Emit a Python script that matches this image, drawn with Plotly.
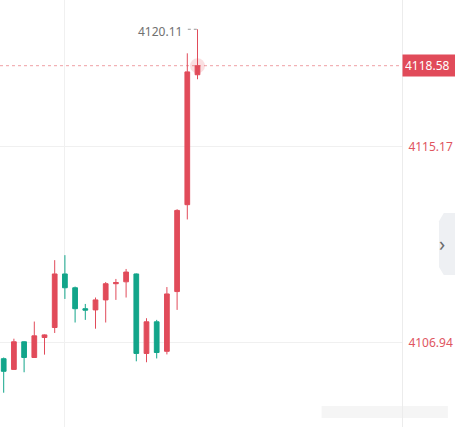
import plotly.graph_objects as go

# 20 candles, red = up, green = down
idx = list(range(20))
open_ = [4106.27, 4105.82, 4106.98, 4106.32, 4107.16, 4107.58, 4109.83, 4109.25, 4108.37, 4108.32,
         4108.74, 4109.42, 4109.50, 4109.83, 4106.49, 4107.82, 4106.58, 4109.09, 4112.74, 4118.20]
high = [4106.32, 4107.11, 4107.00, 4107.83, 4107.29, 4110.41, 4110.62, 4109.30, 4108.57, 4108.84,
        4109.49, 4109.62, 4110.04, 4109.85, 4107.97, 4107.90, 4109.28, 4112.55, 4119.10, 4120.11]
low = [4104.84, 4105.80, 4105.70, 4106.30, 4106.44, 4107.35, 4108.78, 4107.79, 4107.90, 4107.53,
       4107.79, 4108.74, 4108.84, 4106.16, 4106.12, 4106.28, 4106.45, 4108.32, 4112.12, 4118.01]
close = [4105.74, 4106.98, 4106.32, 4107.23, 4107.27, 4109.83, 4109.25, 4108.37, 4108.31, 4108.74,
         4109.42, 4109.47, 4109.91, 4106.49, 4107.82, 4106.53, 4108.99, 4112.50, 4118.32, 4118.58]

price_ticks = [4106.94, 4115.17]
time_grid = [6]

RED = "#e14b5a"
GREEN = "#12a58a"
last = close[-1]
hi = max(high)
hi_i = high.index(hi)

fig = go.Figure()
fig.add_trace(go.Candlestick(
    x=idx, open=open_, high=high, low=low, close=close,
    increasing=dict(line=dict(color=RED, width=1), fillcolor=RED),
    decreasing=dict(line=dict(color=GREEN, width=1), fillcolor=GREEN),
    whiskerwidth=0, hoverinfo="skip", showlegend=False,
))
# soft glow on the live candle
fig.add_trace(go.Scatter(
    x=[idx[-1]], y=[last], mode="markers",
    marker=dict(size=15, color="rgba(225,75,90,0.18)"),
    hoverinfo="skip", showlegend=False,
))
# dotted leader to the session high
fig.add_trace(go.Scatter(
    x=[hi_i - 0.95, hi_i], y=[hi, hi], mode="lines",
    line=dict(color="#999999", width=1, dash="dot"),
    hoverinfo="skip", showlegend=False,
))

fig.add_hline(y=last, line=dict(color="rgba(225,80,90,0.55)", width=1, dash="dot"))

fig.add_annotation(x=hi_i, y=hi, text=f"{hi:.2f}", xanchor="right", yanchor="middle",
                   xshift=-14, yshift=-2, showarrow=False,
                   font=dict(size=12, color="#707070"))
fig.add_annotation(x=1, xref="paper", y=last, text=f"{last:.2f}", xanchor="left",
                   yanchor="middle", showarrow=False, bgcolor=RED, borderpad=2,
                   width=50, align="left", font=dict(size=12, color="white"))

# collapse button on the right edge
fig.add_shape(type="path", xref="paper", yref="paper",
              path="M 1.092,0.482 L 1.104,0.501 L 1.14,0.501 L 1.14,0.356 L 1.104,0.356 L 1.092,0.375 Z",
              fillcolor="#eef0f3", line=dict(width=0), layer="below")
fig.add_annotation(x=1.113, xref="paper", y=0.429, yref="paper", text="›", showarrow=False,
                   font=dict(size=20, color="#6b6b6b"))
# blurred watermark
fig.add_shape(type="rect", xref="paper", yref="paper", x0=0.80, x1=1.114, y0=0.021, y1=0.049,
              fillcolor="#f5f5f5", line=dict(width=0), layer="below")

fig.update_layout(
    width=455, height=427,
    margin=dict(l=0, r=53, t=0, b=0),
    paper_bgcolor="white", plot_bgcolor="white",
    font=dict(family="Noto Sans"),
    boxgap=0.34,
    xaxis=dict(range=[-0.363, 39.05], showticklabels=False, tickvals=time_grid,
               showgrid=True, gridcolor="#f0f0f0", zeroline=False,
               rangeslider=dict(visible=False)),
    yaxis=dict(range=[4103.40, 4121.34], side="right", tickvals=price_ticks,
               ticktext=[f"{v:.2f}" for v in price_ticks],
               tickfont=dict(size=12, color="#e0555f"), showgrid=True, gridcolor="#f0f0f0",
               zeroline=False, showline=True, linecolor="#ececec", linewidth=1,
               ticks="", ticklabelstandoff=3),
)

# page body has an 8px default margin, drop it so the chart sits flush
fig.write_html("out.html", config={"displayModeBar": False},
               post_script="document.body.style.margin='0';")
